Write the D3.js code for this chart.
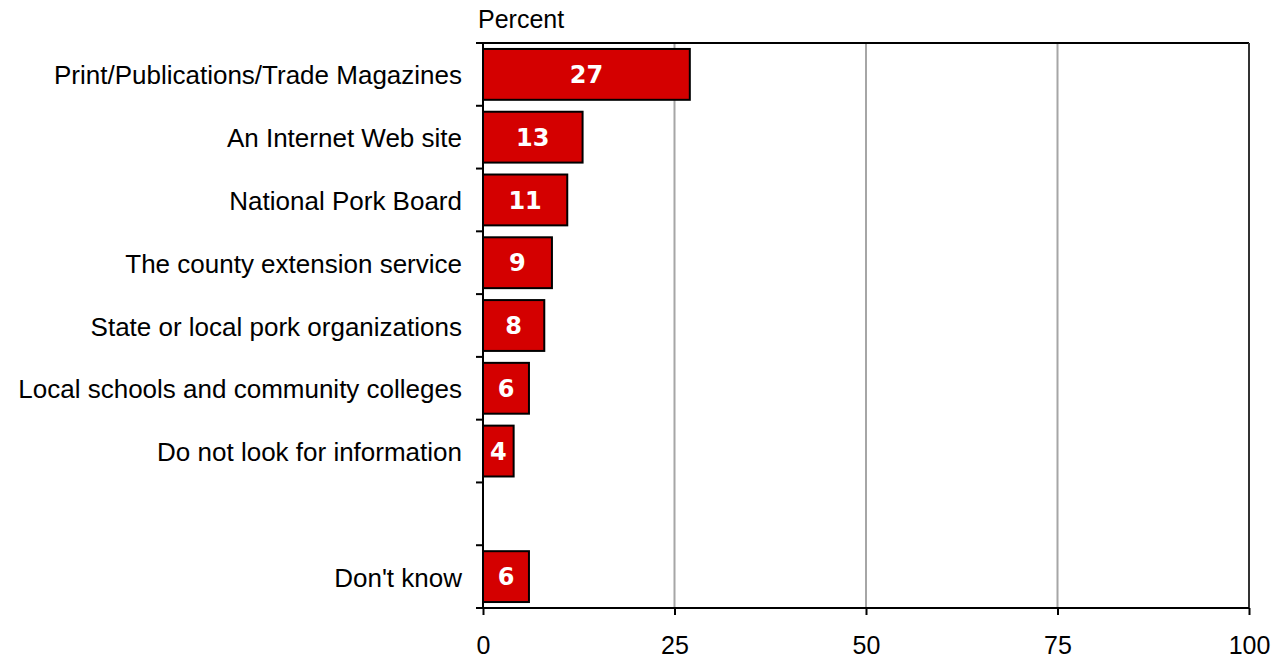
<!DOCTYPE html>
<html>
<head>
<meta charset="utf-8">
<script src="https://cdn.jsdelivr.net/npm/d3@7"></script>
<style>
  body { margin: 0; background: #fff; }
</style>
</head>
<body>
<svg width="1274" height="659"></svg>
<script>
const categories = [
  'Print/Publications/Trade Magazines',
  'An Internet Web site',
  'National Pork Board',
  'The county extension service',
  'State or local pork organizations',
  'Local schools and community colleges',
  'Do not look for information',
  '',
  "Don't know"
]
const values = [27, 13, 11, 9, 8, 6, 4, null, 6]
const xTicks = [0, 25, 50, 75, 100]

const data = categories.map((c, i) => ({ key: 'c' + i, label: c, value: values[i] }))

const sans = "'Liberation Sans', Arial, sans-serif"
const svg = d3.select('svg')
const margin = { top: 43, right: 25, bottom: 51, left: 483 }
const width = +svg.attr('width')
const height = +svg.attr('height')
const innerWidth = width - margin.left - margin.right
const innerHeight = height - margin.top - margin.bottom

const xScale = d3.scaleLinear()
  .domain([0, 100])
  .range([0, innerWidth])

const yScale = d3.scaleBand()
  .domain(data.map(d => d.key))
  .range([0, innerHeight])
  .paddingInner(0.19)
  .paddingOuter(0.095)

const g = svg.append('g')
  .attr('transform', `translate(${margin.left}, ${margin.top})`)

// gridlines
g.selectAll('line.grid').data(xTicks.slice(1, -1))
  .enter().append('line')
  .attr('class', 'grid')
  .attr('x1', d => xScale(d)).attr('x2', d => xScale(d))
  .attr('y1', 0).attr('y2', innerHeight)
  .attr('stroke', '#a6a6a6')
  .attr('stroke-width', 2)

// frame top + right
g.append('line')
  .attr('x1', 0).attr('x2', innerWidth).attr('y1', 0).attr('y2', 0)
  .attr('stroke', '#000').attr('stroke-width', 2)
g.append('line')
  .attr('x1', innerWidth).attr('x2', innerWidth).attr('y1', 0).attr('y2', innerHeight)
  .attr('stroke', '#333').attr('stroke-width', 2)

// x axis
const xAxis = d3.axisBottom(xScale)
  .tickValues(xTicks)
  .tickSize(7)
  .tickPadding(21)
const xAxisGroup = g.append('g')
  .attr('transform', `translate(0, ${innerHeight})`)
  .call(xAxis)
xAxisGroup.select('.domain').attr('stroke-width', 2).attr('d', `M0,0H${innerWidth}`)
xAxisGroup.selectAll('.tick line').attr('stroke-width', 2)
xAxisGroup.selectAll('.tick text')
  .style('font-size', '25px')
  .style('font-family', sans)
  .attr('fill', '#000')

// y axis: ticks on band boundaries
const bounds = d3.range(data.length + 1).map(i => i * innerHeight / data.length)
g.append('line')
  .attr('x1', 0).attr('x2', 0).attr('y1', 0).attr('y2', innerHeight)
  .attr('stroke', '#000').attr('stroke-width', 2)
g.selectAll('line.ytick').data(bounds)
  .enter().append('line')
  .attr('class', 'ytick')
  .attr('x1', -7).attr('x2', 0)
  .attr('y1', d => d).attr('y2', d => d)
  .attr('stroke', '#000').attr('stroke-width', 2)

g.selectAll('text.cat').data(data)
  .enter().append('text')
  .attr('class', 'cat')
  .attr('x', -21)
  .attr('y', d => yScale(d.key) + yScale.bandwidth() / 2 + 1)
  .attr('dy', '0.35em')
  .attr('text-anchor', 'end')
  .style('font-family', sans)
  .style('font-size', '26px')
  .attr('fill', '#000')
  .text(d => d.label)

// bars
const bars = data.filter(d => d.value != null)
g.selectAll('rect.bar').data(bars)
  .enter().append('rect')
  .attr('class', 'bar')
  .attr('x', 0)
  .attr('y', d => yScale(d.key))
  .attr('width', d => xScale(d.value))
  .attr('height', yScale.bandwidth())
  .attr('fill', '#d40000')
  .attr('stroke', '#000')
  .attr('stroke-width', 2)

g.selectAll('text.val').data(bars)
  .enter().append('text')
  .attr('class', 'val')
  .attr('x', d => xScale(d.value) / 2)
  .attr('y', d => yScale(d.key) + yScale.bandwidth() / 2)
  .attr('dy', '0.36em')
  .attr('text-anchor', 'middle')
  .style('font-family', "'DejaVu Sans', Verdana, sans-serif")
  .style('font-weight', 'bold')
  .style('font-size', '24px')
  .attr('fill', '#fff')
  .text(d => d.value)

svg.append('text')
  .attr('x', 478)
  .attr('y', 28)
  .style('font-family', sans)
  .style('font-size', '25px')
  .attr('fill', '#000')
  .text('Percent')
</script>
</body>
</html>
